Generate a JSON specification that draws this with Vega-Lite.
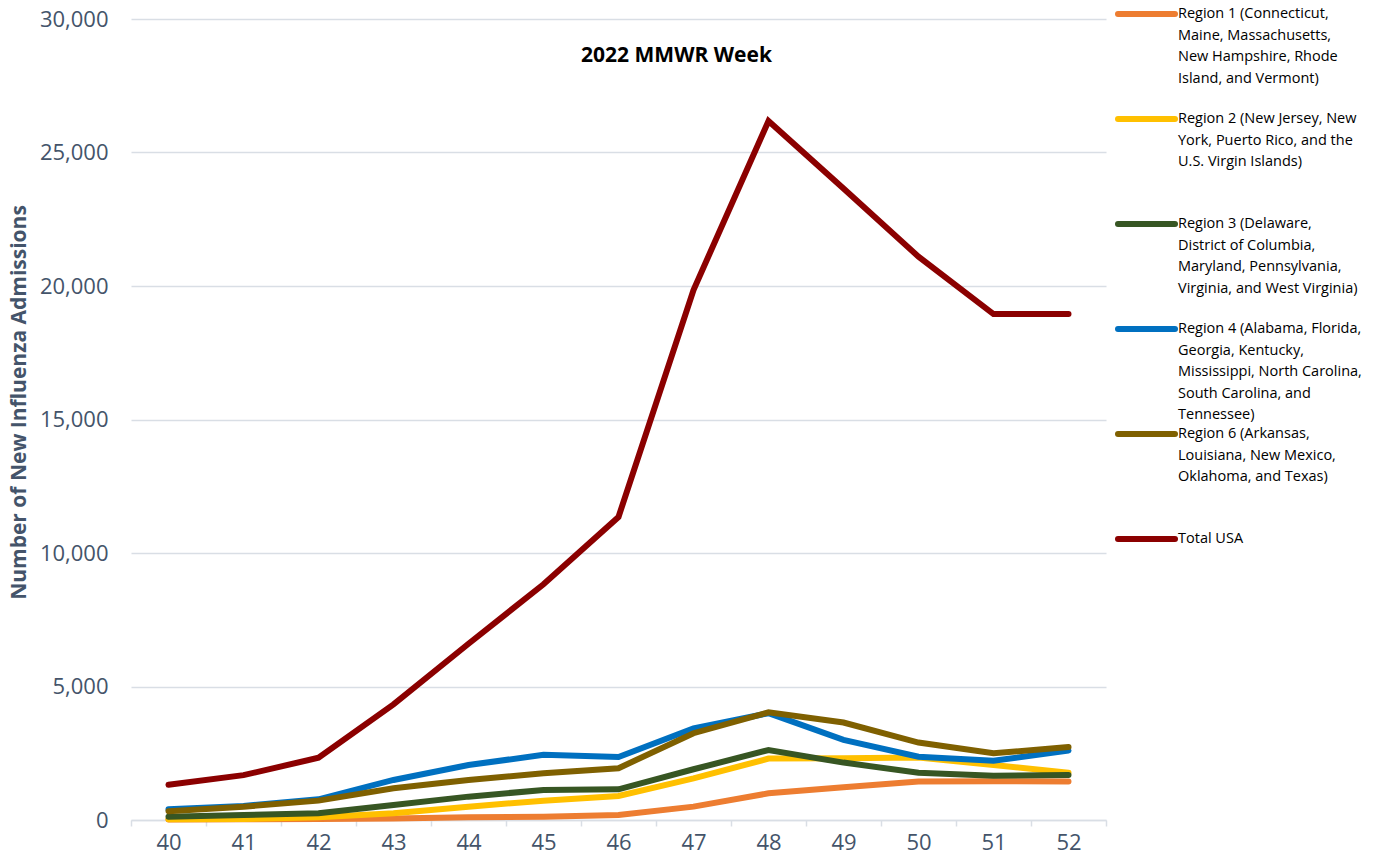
{
  "$schema": "https://vega.github.io/schema/vega-lite/v6.json",
  "width": 975,
  "height": 801,
  "autosize": {"type": "none"},
  "padding": {"left": 131, "top": 19, "right": 292, "bottom": 42},
  "background": "white",
  "title": {"text": "2022 MMWR Week", "frame": "group", "anchor": "middle", "offset": -59, "dx": 58, "fontSize": 21, "font": "Open Sans", "fontWeight": "bold", "color": "#000000"},
  "config": {
    "view": {"stroke": null},
    "font": "Open Sans"
  },
  "data": {
    "values": [
      {"week": 40, "region": "Region 1", "value": 20},
      {"week": 41, "region": "Region 1", "value": 30},
      {"week": 42, "region": "Region 1", "value": 40},
      {"week": 43, "region": "Region 1", "value": 60},
      {"week": 44, "region": "Region 1", "value": 100},
      {"week": 45, "region": "Region 1", "value": 125},
      {"week": 46, "region": "Region 1", "value": 190},
      {"week": 47, "region": "Region 1", "value": 500},
      {"week": 48, "region": "Region 1", "value": 1000},
      {"week": 49, "region": "Region 1", "value": 1230},
      {"week": 50, "region": "Region 1", "value": 1440},
      {"week": 51, "region": "Region 1", "value": 1450},
      {"week": 52, "region": "Region 1", "value": 1440},
      {"week": 40, "region": "Region 2", "value": 30},
      {"week": 41, "region": "Region 2", "value": 40},
      {"week": 42, "region": "Region 2", "value": 100},
      {"week": 43, "region": "Region 2", "value": 250},
      {"week": 44, "region": "Region 2", "value": 500},
      {"week": 45, "region": "Region 2", "value": 725},
      {"week": 46, "region": "Region 2", "value": 900},
      {"week": 47, "region": "Region 2", "value": 1560},
      {"week": 48, "region": "Region 2", "value": 2300},
      {"week": 49, "region": "Region 2", "value": 2310},
      {"week": 50, "region": "Region 2", "value": 2340},
      {"week": 51, "region": "Region 2", "value": 2060},
      {"week": 52, "region": "Region 2", "value": 1770},
      {"week": 40, "region": "Region 3", "value": 125},
      {"week": 41, "region": "Region 3", "value": 190},
      {"week": 42, "region": "Region 3", "value": 250},
      {"week": 43, "region": "Region 3", "value": 560},
      {"week": 44, "region": "Region 3", "value": 875},
      {"week": 45, "region": "Region 3", "value": 1125},
      {"week": 46, "region": "Region 3", "value": 1150},
      {"week": 47, "region": "Region 3", "value": 1900},
      {"week": 48, "region": "Region 3", "value": 2620},
      {"week": 49, "region": "Region 3", "value": 2150},
      {"week": 50, "region": "Region 3", "value": 1770},
      {"week": 51, "region": "Region 3", "value": 1660},
      {"week": 52, "region": "Region 3", "value": 1690},
      {"week": 40, "region": "Region 4", "value": 400},
      {"week": 41, "region": "Region 4", "value": 525},
      {"week": 42, "region": "Region 4", "value": 775},
      {"week": 43, "region": "Region 4", "value": 1500},
      {"week": 44, "region": "Region 4", "value": 2060},
      {"week": 45, "region": "Region 4", "value": 2440},
      {"week": 46, "region": "Region 4", "value": 2360},
      {"week": 47, "region": "Region 4", "value": 3430},
      {"week": 48, "region": "Region 4", "value": 4000},
      {"week": 49, "region": "Region 4", "value": 3000},
      {"week": 50, "region": "Region 4", "value": 2370},
      {"week": 51, "region": "Region 4", "value": 2220},
      {"week": 52, "region": "Region 4", "value": 2600},
      {"week": 40, "region": "Region 6", "value": 330},
      {"week": 41, "region": "Region 6", "value": 500},
      {"week": 42, "region": "Region 6", "value": 725},
      {"week": 43, "region": "Region 6", "value": 1190},
      {"week": 44, "region": "Region 6", "value": 1500},
      {"week": 45, "region": "Region 6", "value": 1750},
      {"week": 46, "region": "Region 6", "value": 1940},
      {"week": 47, "region": "Region 6", "value": 3250},
      {"week": 48, "region": "Region 6", "value": 4030},
      {"week": 49, "region": "Region 6", "value": 3650},
      {"week": 50, "region": "Region 6", "value": 2900},
      {"week": 51, "region": "Region 6", "value": 2500},
      {"week": 52, "region": "Region 6", "value": 2730},
      {"week": 40, "region": "Total USA", "value": 1320},
      {"week": 41, "region": "Total USA", "value": 1680},
      {"week": 42, "region": "Total USA", "value": 2330},
      {"week": 43, "region": "Total USA", "value": 4330},
      {"week": 44, "region": "Total USA", "value": 6600},
      {"week": 45, "region": "Total USA", "value": 8830},
      {"week": 46, "region": "Total USA", "value": 11350},
      {"week": 47, "region": "Total USA", "value": 19850},
      {"week": 48, "region": "Total USA", "value": 26180},
      {"week": 49, "region": "Total USA", "value": 23650},
      {"week": 50, "region": "Total USA", "value": 21100},
      {"week": 51, "region": "Total USA", "value": 18950},
      {"week": 52, "region": "Total USA", "value": 18950}
    ]
  },
  "mark": {"type": "line", "strokeWidth": 6, "strokeCap": "round", "strokeJoin": "miter"},
  "encoding": {
    "x": {
      "field": "week", "type": "ordinal", "bandPosition": 0.5,
      "scale": {"type": "band", "paddingInner": 0, "paddingOuter": 0},
      "axis": {
        "title": null, "labelAngle": 0, "labelFontSize": 22, "labelColor": "#44546A", "labelFont": "Open Sans",
        "domainColor": "#D9DEE5", "domainWidth": 1.5, "tickColor": "#D9DEE5", "tickWidth": 1.5, "tickSize": 6,
        "tickBand": "extent", "labelPadding": 6, "grid": false
      }
    },
    "y": {
      "field": "value", "type": "quantitative",
      "scale": {"domain": [0, 30000], "nice": false},
      "axis": {
        "values": [0, 5000, 10000, 15000, 20000, 25000, 30000], "format": ",.0f",
        "title": "Number of New Influenza Admissions", "titleFontSize": 21, "titleFontWeight": "bold", "titleColor": "#44546A", "titleFont": "Open Sans", "titlePadding": 10, "titleY": 383,
        "labelFontSize": 22, "labelColor": "#44546A", "labelFont": "Open Sans", "labelPadding": 23,
        "ticks": false, "domain": false, "gridColor": "#D9DEE5", "gridWidth": 1.5
      }
    },
    "color": {
      "field": "region", "type": "nominal",
      "scale": {
        "domain": ["Region 1", "Region 2", "Region 3", "Region 4", "Region 6", "Total USA"],
        "range": ["#ED7D31", "#FFC000", "#375623", "#0070C0", "#7F6000", "#8B0000"]
      },
      "legend": {
        "title": null, "orient": "none", "legendX": 987, "legendY": -12, "padding": 0,
        "symbolType": "stroke", "symbolSize": 100, "symbolStrokeWidth": 6,
        "labelFont": "Open Sans", "labelFontSize": 14.5, "labelColor": "#000000", "labelLimit": 400,
        "labelBaseline": "top", "labelOffset": 0, "gridAlign": "all", "rowPadding": 0,
        "labelExpr": "datum.label == 'Region 1' ? ['Region 1 (Connecticut,', 'Maine, Massachusetts,', 'New Hampshire, Rhode', 'Island, and Vermont)'] : datum.label == 'Region 2' ? ['Region 2 (New Jersey, New', 'York, Puerto Rico, and the', 'U.S. Virgin Islands)'] : datum.label == 'Region 3' ? ['Region 3 (Delaware,', 'District of Columbia,', 'Maryland, Pennsylvania,', 'Virginia, and West Virginia)'] : datum.label == 'Region 4' ? ['Region 4 (Alabama, Florida,', 'Georgia, Kentucky,', 'Mississippi, North Carolina,', 'South Carolina, and', 'Tennessee)'] : datum.label == 'Region 6' ? ['Region 6 (Arkansas,', 'Louisiana, New Mexico,', 'Oklahoma, and Texas)'] : datum.label",
        "encode": {
          "symbols": {"update": {"strokeCap": {"value": "round"}, "size": {"value": 3249}, "x": {"value": 28.5}, "y": {"value": 7}}},
          "labels": {"update": {"x": {"value": 60}, "y": {"value": 0}, "lineHeight": {"value": 21.6}}}
        }
      }
    }
  }
}
